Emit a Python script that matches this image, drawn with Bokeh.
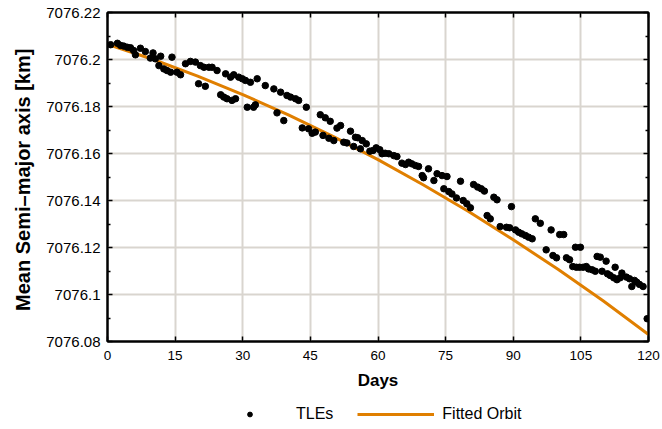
from bokeh.plotting import figure
from bokeh.layouts import column
from bokeh.models import FixedTicker, Legend, LegendItem, LinearAxis, Range1d, CustomJSTickFormatter
from bokeh.embed import file_html
from bokeh.resources import INLINE

tle_days = [0.7, 2.2, 2.9, 3.6, 4.4, 5.1, 5.8, 6.2, 7.3, 8.4, 9.5, 10.1, 10.6, 11.4, 11.8, 12.5, 13.2, 14.0,
            14.3, 15.4, 16.2, 17.3, 18.4, 19.5, 20.2, 20.6, 21.4, 21.7, 22.5, 23.2, 24.3, 25.1, 25.8, 26.2,
            26.5, 27.3, 27.6, 28.0, 28.4, 29.1, 29.9, 30.6, 31.0, 31.7, 32.4, 32.8, 33.2, 35.0, 36.9, 37.6,
            38.4, 39.1, 39.8, 40.6, 41.7, 42.4, 43.2, 44.1, 44.6, 45.4, 46.1, 47.2, 47.8, 48.3, 49.1, 49.4,
            50.2, 50.9, 51.7, 52.4, 53.1, 53.9, 54.6, 55.0, 55.5, 56.1, 56.5, 57.4, 58.2, 58.9, 59.6, 60.4,
            60.9, 61.6, 62.4, 63.5, 64.2, 65.3, 66.1, 66.8, 67.5, 68.3, 69.0, 69.8, 70.1, 71.2, 72.4, 73.1,
            74.2, 74.6, 75.3, 75.7, 76.4, 77.4, 78.3, 78.9, 79.7, 80.5, 81.2, 82.1, 82.9, 83.6, 84.2, 84.9,
            85.7, 86.4, 87.1, 88.5, 89.2, 89.6, 90.5, 91.2, 91.9, 92.7, 93.4, 94.2, 94.9, 96.0, 97.3, 98.4,
            98.8, 99.6, 100.3, 101.2, 101.8, 102.5, 103.2, 103.8, 104.0, 104.7, 104.9, 105.5, 106.2, 106.7,
            107.5, 108.2, 108.6, 109.3, 109.7, 110.6, 110.9, 111.5, 112.3, 112.6, 113.0, 113.7, 114.1, 115.1,
            115.8, 116.3, 116.9, 117.4, 118.0, 118.8, 119.7]
tle_sma = [7076.2063, 7076.2069, 7076.2060, 7076.2057, 7076.2052, 7076.2050, 7076.2038, 7076.2020, 7076.2048,
           7076.2034, 7076.2006, 7076.2028, 7076.2003, 7076.1974, 7076.2014, 7076.1960, 7076.1953, 7076.1946,
           7076.2010, 7076.1946, 7076.1935, 7076.1982, 7076.1992, 7076.1989, 7076.1897, 7076.1974, 7076.1967,
           7076.1886, 7076.1967, 7076.1967, 7076.1953, 7076.1850, 7076.1840, 7076.1939, 7076.1833, 7076.1925,
           7076.1826, 7076.1935, 7076.1833, 7076.1925, 7076.1918, 7076.1911, 7076.1797, 7076.1903, 7076.1797,
           7076.1807, 7076.1918, 7076.1889, 7076.1875, 7076.1773, 7076.1861, 7076.1740, 7076.1847, 7076.1840,
           7076.1833, 7076.1826, 7076.1709, 7076.1797, 7076.1705, 7076.1686, 7076.1691, 7076.1765, 7076.1677,
           7076.1752, 7076.1665, 7076.1737, 7076.1655, 7076.1708, 7076.1719, 7076.1648, 7076.1645, 7076.1695,
           7076.1630, 7076.1669, 7076.1667, 7076.1620, 7076.1655, 7076.1641, 7076.1610, 7076.1613, 7076.1624,
           7076.1616, 7076.1599, 7076.1601, 7076.1599, 7076.1591, 7076.1587, 7076.1559, 7076.1553, 7076.1563,
           7076.1556, 7076.1549, 7076.1545, 7076.1506, 7076.1497, 7076.1535, 7076.1485, 7076.1514, 7076.1506,
           7076.1450, 7076.1502, 7076.1438, 7076.1428, 7076.1411, 7076.1482, 7076.1400, 7076.1386, 7076.1369,
           7076.1468, 7076.1457, 7076.1450, 7076.1440, 7076.1336, 7076.1322, 7076.1414, 7076.1403, 7076.1289,
           7076.1286, 7076.1284, 7076.1374, 7076.1275, 7076.1265, 7076.1258, 7076.1251, 7076.1244, 7076.1237,
           7076.1322, 7076.1303, 7076.1190, 7076.1275, 7076.1166, 7076.1156, 7076.1255, 7076.1255, 7076.1156,
           7076.1148, 7076.1119, 7076.1201, 7076.1116, 7076.1116, 7076.1201, 7076.1116, 7076.1119, 7076.1109,
           7076.1105, 7076.1099, 7076.1162, 7076.1159, 7076.1099, 7076.1142, 7076.1088, 7076.1081, 7076.1071,
           7076.1116, 7076.1063, 7076.1071, 7076.1091, 7076.1074, 7076.1067, 7076.1034, 7076.1060, 7076.1052,
           7076.1043, 7076.1034, 7076.0897]

fit_days = [0, 10, 20, 30, 40, 50, 60, 70, 80, 90, 100, 110, 120]
fit_sma = [7076.2065, 7076.2001, 7076.1929, 7076.1851, 7076.1765, 7076.1673, 7076.1574, 7076.1467,
           7076.1354, 7076.1233, 7076.1106, 7076.0972, 7076.0830]

x_ticks = [0, 15, 30, 45, 60, 75, 90, 105, 120]
y_ticks = [7076.08, 7076.10, 7076.12, 7076.14, 7076.16, 7076.18, 7076.20, 7076.22]
y_labels = ["7076.08", "7076.1", "7076.12", "7076.14", "7076.16", "7076.18", "7076.2", "7076.22"]
y_minor = [7076.09, 7076.11, 7076.13, 7076.15, 7076.17, 7076.19, 7076.21]

FONT = "Liberation Sans"
GRID = "#d9d5cf"
ORANGE = "#e07f00"
DOT_SIZE = 6.5

p = figure(width=662, height=392, x_range=Range1d(0, 120), y_range=Range1d(7076.08, 7076.22),
           output_backend="svg", toolbar_location=None,
           min_border_left=107, min_border_right=14, min_border_top=12, min_border_bottom=51)
p.outline_line_color = "black"
p.outline_line_width = 2
p.background_fill_color = "white"
p.border_fill_color = "white"

xt = FixedTicker(ticks=x_ticks, minor_ticks=[])
yt = FixedTicker(ticks=y_ticks, minor_ticks=y_minor)
yfmt = CustomJSTickFormatter(args=dict(tvals=y_ticks, tlabels=y_labels), code="""
let best = 0, bd = 1e9;
for (let i = 0; i < tvals.length; i++) { const d = Math.abs(tvals[i] - tick); if (d < bd) { bd = d; best = i; } }
return tlabels[best];
""")

p.xaxis.ticker = xt
p.yaxis.ticker = yt
p.yaxis.formatter = yfmt

for ax in [p.xaxis[0], p.yaxis[0]]:
    ax.axis_line_color = "black"
    ax.axis_line_width = 2
    ax.major_tick_in = 5
    ax.major_tick_out = 0
    ax.minor_tick_in = 3
    ax.minor_tick_out = 0
    ax.major_tick_line_color = "black"
    ax.minor_tick_line_color = "black"
    ax.major_tick_line_width = 1.5
    ax.minor_tick_line_width = 1.5
    ax.major_label_text_font = FONT
    ax.major_label_text_color = "black"
    ax.axis_label_text_font = FONT
    ax.axis_label_text_font_style = "bold"
    ax.axis_label_text_color = "black"

p.xaxis.major_label_text_font_size = "13.5px"
p.yaxis.major_label_text_font_size = "15px"
p.xaxis.axis_label = "Days"
p.yaxis.axis_label = "Mean Semi\u2013major axis  [km]"
p.xaxis.axis_label_text_font_size = "17px"
p.yaxis.axis_label_text_font_size = "20px"
p.xaxis.major_label_standoff = 9
p.yaxis.major_label_standoff = 7
p.xaxis.axis_label_standoff = 8
p.yaxis.axis_label_standoff = 9

right = LinearAxis(ticker=yt, major_label_text_font_size="0px", major_tick_in=5, major_tick_out=0,
                   minor_tick_in=3, minor_tick_out=0, axis_line_width=2, major_tick_line_width=1.5,
                   minor_tick_line_width=1.5)
top = LinearAxis(ticker=xt, major_label_text_font_size="0px", major_tick_in=5, major_tick_out=0,
                 minor_tick_in=3, minor_tick_out=0, axis_line_width=2, major_tick_line_width=1.5)
right.major_label_standoff = 0
top.major_label_standoff = 0
p.add_layout(right, "right")
p.add_layout(top, "above")

p.xgrid.ticker = xt
p.ygrid.ticker = yt
p.grid.grid_line_color = GRID
p.grid.grid_line_width = 2

p.line(fit_days, fit_sma, line_color=ORANGE, line_width=3)
p.scatter(tle_days, tle_sma, size=DOT_SIZE, fill_color="black", line_color="black")

# legend strip below the chart (its glyph renderers hold the data but lie outside its view)
lg = figure(width=662, height=37, output_backend="svg", toolbar_location=None,
            min_border=0, x_range=Range1d(0, 1), y_range=Range1d(0, 1))
lg.xaxis.visible = False
lg.yaxis.visible = False
lg.grid.visible = False
lg.outline_line_color = None
lg.background_fill_color = "white"
lg.border_fill_color = "white"
lg_dots = lg.scatter(x=tle_days, y=tle_sma, size=5, fill_color="black", line_color="black")
lg_line = lg.line(x=fit_days, y=fit_sma, line_color=ORANGE, line_width=3)

legend = Legend(items=[LegendItem(label="TLEs", renderers=[lg_dots]),
                       LegendItem(label="Fitted Orbit", renderers=[lg_line])],
                orientation="horizontal", location=(102, 4),
                glyph_width=77, glyph_height=12, label_standoff=8, spacing=24,
                label_text_font=FONT, label_text_font_size="16px", label_text_color="black",
                border_line_alpha=0, background_fill_alpha=0, margin=0, padding=2)
lg.add_layout(legend, "center")

layout = column(p, lg, spacing=0)
open("out.html", "w").write(file_html(layout, INLINE))
